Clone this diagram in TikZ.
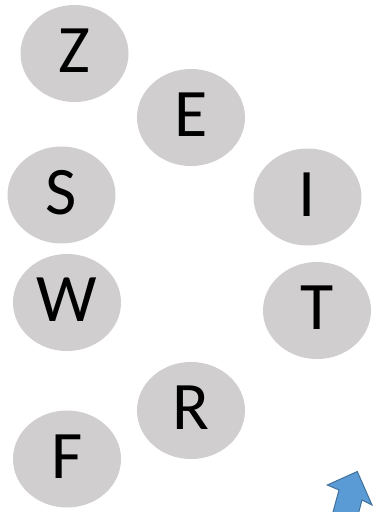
\documentclass[tikz,border=0pt]{standalone}
\usepackage{fontspec}
\setmainfont{Carlito}
\usepackage{xcolor}
\usetikzlibrary{shapes.geometric}

\definecolor{bubblegray}{HTML}{D0CECE}
\definecolor{arrowfill}{HTML}{5B9BD5}
\definecolor{arrowline}{HTML}{41719C}

\tikzset{
  bubble/.style={ellipse, fill=bubblegray, minimum width=108pt, minimum height=97pt,
    inner sep=0pt, text depth=5pt, font=\fontsize{68}{68}\selectfont, text=black}
}

\begin{document}
\begin{tikzpicture}[x=1pt, y=-1pt]
  \useasboundingbox (0,0) rectangle (375,512);

  % letter bubbles
  \node[bubble] (bZ) at (74.5,53.5) {Z};
  \node[bubble] (bE) at (191,117.5) {E};
  \node[bubble] (bS) at (61.5,195) {S};
  \node[bubble] (bI) at (307.5,197) {I};
  \node[bubble] (bW) at (67,302.5) {W};
  \node[bubble] (bT) at (317,310.5) {T};
  \node[bubble] (bR) at (191,410.5) {R};
  \node[bubble] (bF) at (67,459) {F};

  % block arrow, cut by the lower edge
  \coordinate (tip) at (357.3,471.5);
  \coordinate (lbarb) at (327.3,485);
  \coordinate (lnotch) at (339,490);
  \coordinate (rnotch) at (362,500);
  \coordinate (rbarb) at (372,505);
  \begin{scope}
    \clip (0,0) rectangle (375,512);
    \draw[arrowline, fill=arrowfill, line width=1pt, line join=miter]
      (tip) -- (rbarb) -- (rnotch) -- (356.2,522) -- (330.3,522)
      -- (lnotch) -- (lbarb) -- cycle;
  \end{scope}
\end{tikzpicture}
\end{document}
